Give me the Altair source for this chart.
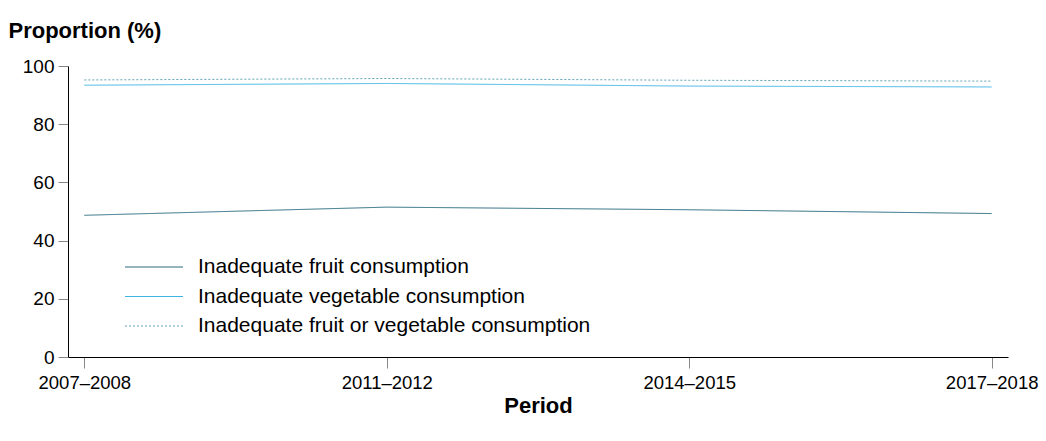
import altair as alt
import pandas as pd

periods = ["2007–2008", "2011–2012", "2014–2015", "2017–2018"]
series = [
    "Inadequate fruit consumption",
    "Inadequate vegetable consumption",
    "Inadequate fruit or vegetable consumption",
]
fruit = [48.7, 51.5, 50.6, 49.3]
veg = [93.4, 94.0, 93.1, 92.8]
fruit_or_veg = [95.2, 95.7, 95.1, 94.8]
colors = ["#2a6c82", "#3db4e3", "#5ea3b8"]
dashes = [[1, 0], [1, 0], [2, 2]]

rows = []
for name, vals in zip(series, [fruit, veg, fruit_or_veg]):
    for p, v in zip(periods, vals):
        rows.append({"Period": p, "Series": name, "Value": v})
df = pd.DataFrame(rows)

FONT = "Liberation Sans"

chart = alt.Chart(df).mark_line(strokeWidth=1).encode(
    x=alt.X(
        "Period:N",
        sort=periods,
        scale=alt.Scale(type="point", padding=0.054),
        axis=alt.Axis(
            title="Period",
            labelAngle=0,
            labelFontSize=18.5,
            labelPadding=5,
            tickSize=11,
            tickColor="#888888",
            domainColor="#000000",
            titleFontSize=22,
            titleFontWeight="bold",
            titlePadding=4,
            labelFont=FONT,
            titleFont=FONT,
            labelColor="#000000",
            titleColor="#000000",
        ),
    ),
    y=alt.Y(
        "Value:Q",
        scale=alt.Scale(domain=[0, 100]),
        axis=alt.Axis(
            title="Proportion (%)",
            values=[0, 20, 40, 60, 80, 100],
            grid=False,
            labelFontSize=19,
            labelPadding=4,
            tickSize=10,
            tickColor="#888888",
            domainColor="#000000",
            titleAngle=0,
            titleAlign="left",
            titleBaseline="alphabetic",
            titleX=-60,
            titleY=-29,
            titleFontSize=22,
            titleFontWeight="bold",
            labelFont=FONT,
            titleFont=FONT,
            labelColor="#000000",
            titleColor="#000000",
        ),
    ),
    color=alt.Color(
        "Series:N",
        sort=series,
        scale=alt.Scale(domain=series, range=colors),
        legend=alt.Legend(
            title=None,
            orient="none",
            legendX=75,
            legendY=190,
            symbolType="M-2.9,0H2.9",
            symbolSize=400,
            symbolStrokeWidth=1.2,
            symbolFillColor="transparent",
            labelFontSize=21,
            labelFont=FONT,
            labelColor="#000000",
            labelLimit=0,
            rowPadding=8.5,
            labelOffset=33,
        ),
    ),
    strokeDash=alt.StrokeDash(
        "Series:N",
        sort=series,
        scale=alt.Scale(domain=series, range=dashes),
        legend=None,
    ),
).properties(
    width=940,
    height=291,
    autosize=alt.AutoSizeParams(type="none"),
    padding={"left": 60, "top": 58, "right": 30, "bottom": 70},
).configure_view(stroke=None)

chart.save("out.html", embed_options={"renderer": "svg", "actions": False})
